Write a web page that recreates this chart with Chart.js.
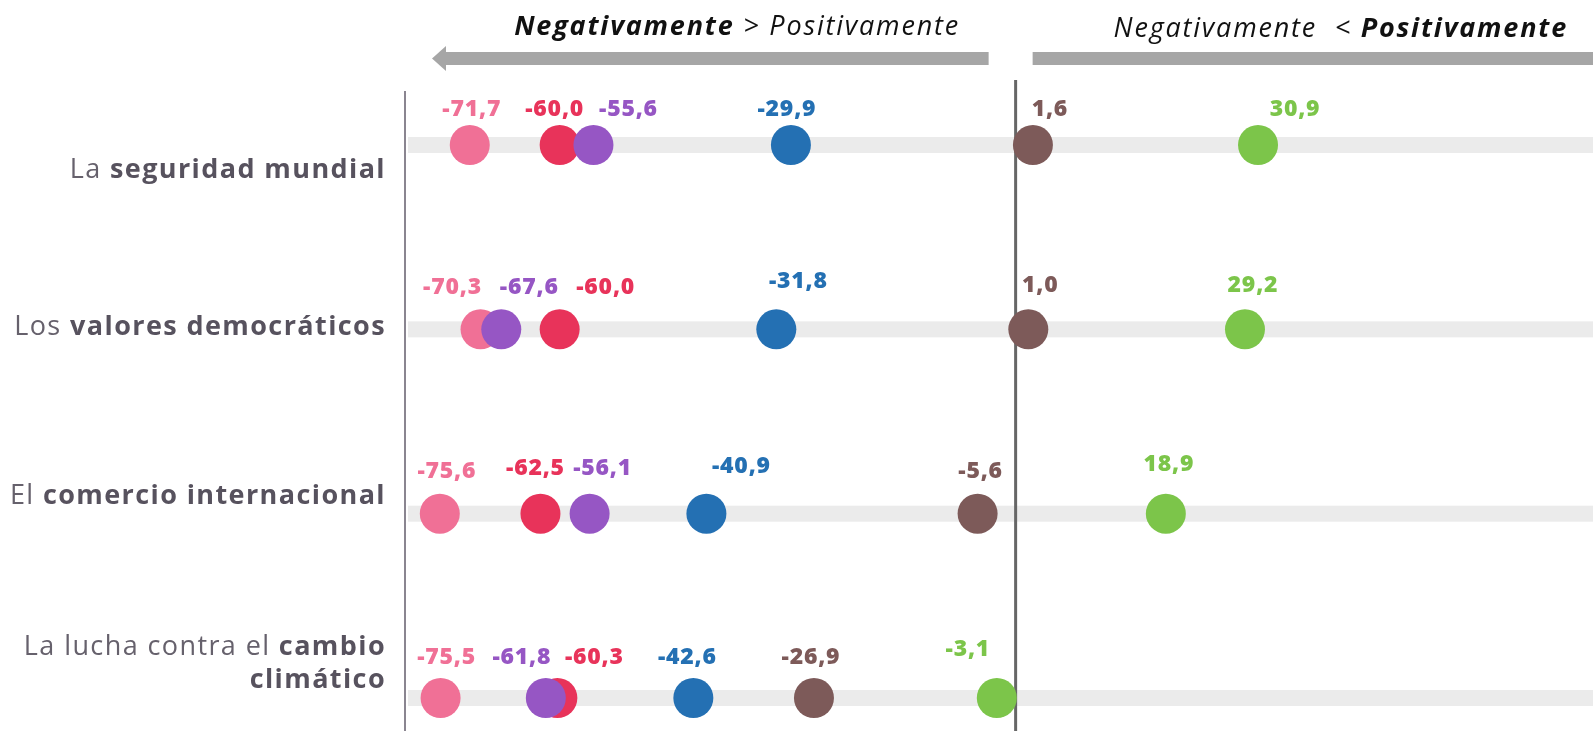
<!DOCTYPE html>
<html>
<head>
<meta charset="utf-8">
<script src="https://cdn.jsdelivr.net/npm/chart.js@4"></script>
<style>
  html, body { margin: 0; padding: 0; background: #fff; overflow: hidden; }
  #wrap { width: 1593px; height: 736px; }
  canvas { display: block; }
</style>
</head>
<body>
<div id="wrap"><canvas id="dots" width="1593" height="736"></canvas></div>
<script>
// === DATA ===
const categories = [
    ['La ', 'seguridad mundial'],
    ['Los ', 'valores democráticos'],
    ['El ', 'comercio internacional'],
    ['La lucha contra el ', 'cambio', 'climático']
];
const serieA = [-71.7, -70.3, -75.6, -75.5];   // rosa
const serieB = [-60.0, -60.0, -62.5, -60.3];   // rojo
const serieC = [-55.6, -67.6, -56.1, -61.8];   // morado
const serieD = [-29.9, -31.8, -40.9, -42.6];   // azul
const serieE = [1.6, 1.0, -5.6, -26.9];        // marrón
const serieF = [30.9, 29.2, 18.9, -3.1];       // verde

const colors = {
    A: '#f07096', B: '#e8335a', C: '#9656c4',
    D: '#2470b3', E: '#7d5a59', F: '#7cc54a'
};

// label nudges per series/row [dx, dy] relative to dot centre (layout only)
const nudge = {
    A: [[2, -36], [-28, -42], [7, -42], [6, -41]],
    B: [[-5, -36], [46, -42], [-5, -45], [37, -41]],
    C: [[35, -36], [28, -42], [13, -45], [-24, -41]],
    D: [[-4, -36], [22, -48], [35, -47], [-6, -41]],
    E: [[17, -36], [12, -44], [3, -42], [-3, -41]],
    F: [[37, -36], [8, -44], [3, -49], [-29, -49]]
};

const FONT = "'Open Sans', sans-serif";
const fmt = v => v.toFixed(1).replace('.', ',');
const toPoints = arr => arr.map((v, i) => ({ x: v, y: i }));

// purple first so it sits on top of pink/red where they overlap
const series = [
    { key: 'C', data: serieC },
    { key: 'A', data: serieA },
    { key: 'B', data: serieB },
    { key: 'D', data: serieD },
    { key: 'E', data: serieE },
    { key: 'F', data: serieF }
];

// === DECORATION PLUGIN ===
const decor = {
    id: 'decor',
    beforeDatasetsDraw(chart) {
        const { ctx, chartArea: a, scales: { x, y } } = chart;
        ctx.save();
        // grey tracks
        ctx.fillStyle = '#ebebeb';
        categories.forEach((c, i) => {
            const py = y.getPixelForValue(i);
            ctx.fillRect(a.left + 2, py - 8, a.right - a.left, 16);
        });
        // left axis
        ctx.fillStyle = '#8a8590';
        ctx.fillRect(a.left - 2, a.top, 2, a.bottom - a.top);
        // zero line
        const zx = x.getPixelForValue(0) - 5;
        ctx.fillStyle = '#666';
        ctx.fillRect(zx - 1.5, a.top - 11, 3, a.bottom - a.top + 11);
        ctx.restore();
    },
    afterDatasetsDraw(chart) {
        const { ctx, chartArea: a, scales: { x, y } } = chart;
        ctx.save();
        // value labels
        ctx.textAlign = 'center';
        ctx.textBaseline = 'middle';
        ctx.font = `800 23px ${FONT}`;
        ctx.letterSpacing = '0.8px';
        series.forEach(s => {
            s.data.forEach((v, i) => {
                const [dx, dy] = nudge[s.key][i];
                ctx.fillStyle = colors[s.key];
                ctx.fillText(fmt(v), x.getPixelForValue(v) + dx, y.getPixelForValue(i) + dy);
            });
        });

        // category labels (mixed weight, right aligned)
        const rightEdge = 386;
        const drawMixed = (parts, py) => {
            let px = rightEdge;
            ctx.textAlign = 'right';
            ctx.textBaseline = 'middle';
            ctx.letterSpacing = '1.4px';
            for (let k = parts.length - 1; k >= 0; k--) {
                const [txt, bold] = parts[k];
                ctx.font = `${bold ? 700 : 400} 27px ${FONT}`;
                ctx.fillStyle = bold ? '#57525e' : '#66616c';
                ctx.fillText(txt, px, py);
                px -= ctx.measureText(txt).width;
            }
        };
        const catDy = [25, -2, -17];
        categories.forEach((c, i) => {
            const py = y.getPixelForValue(i);
            if (c.length === 2) {
                drawMixed([[c[0], false], [c[1], true]], py + catDy[i]);
            } else {
                drawMixed([[c[0], false], [c[1], true]], py - 51);
                drawMixed([[c[2], true]], py - 18);
            }
        });

        // direction arrows
        const zx = x.getPixelForValue(0) - 5;
        ctx.fillStyle = '#a6a6a6';
        const ay = 52, ah = 13;
        ctx.fillRect(444, ay, zx - 27 - 444, ah);
        ctx.beginPath();
        ctx.moveTo(432, ay + ah / 2);
        ctx.lineTo(446, ay - 6);
        ctx.lineTo(446, ay + ah + 6);
        ctx.closePath();
        ctx.fill();
        ctx.fillRect(zx + 17, ay, a.right - zx - 17, ah);

        // direction texts
        const drawRun = (runs, rightX, py) => {
            let px = rightX;
            ctx.textAlign = 'right';
            ctx.textBaseline = 'middle';
            ctx.fillStyle = '#111';
            ctx.letterSpacing = '1.8px';
            for (let k = runs.length - 1; k >= 0; k--) {
                const [txt, bold] = runs[k];
                ctx.font = `italic ${bold ? 700 : 400} 27px ${FONT}`;
                ctx.fillText(txt, px, py);
                px -= ctx.measureText(txt).width;
            }
        };
        drawRun([['Negativamente', true], [' > Positivamente', false]], 960, 27);
        drawRun([['Negativamente  < ', false], ['Positivamente', true]], 1568, 29);
        ctx.restore();
    }
};

// === CHART ===
new Chart(document.getElementById('dots'), {
    type: 'scatter',
    data: {
        datasets: series.map(s => ({
            label: s.key,
            data: toPoints(s.data),
            backgroundColor: colors[s.key],
            borderWidth: 0,
            pointRadius: 20,
            pointHoverRadius: 20
        }))
    },
    options: {
        responsive: false,
        animation: false,
        layout: { autoPadding: false, padding: { left: 406, top: 91, right: 0, bottom: 5 } },
        plugins: { legend: { display: false }, tooltip: { enabled: false } },
        scales: {
            x: { type: 'linear', min: -80, max: 74.5, display: false },
            y: { type: 'linear', min: -0.293, max: 3.179, reverse: true, display: false }
        }
    },
    plugins: [decor]
});
</script>
</body>
</html>
